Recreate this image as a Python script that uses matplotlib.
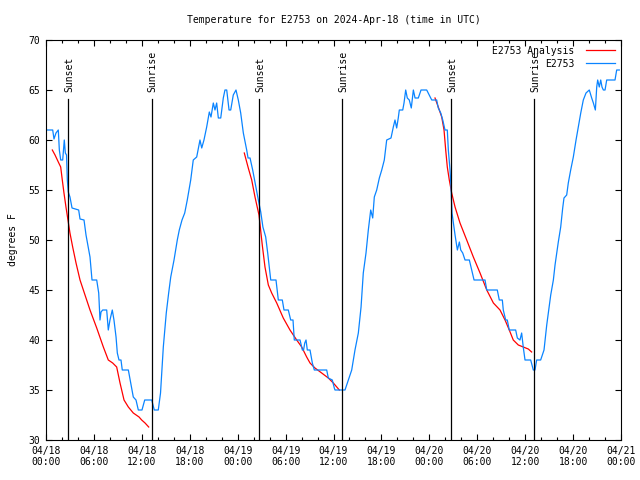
import matplotlib.pyplot as plt
from matplotlib.ticker import MultipleLocator

# hours since 2024-04-18 00:00 UTC
obs_hours = [0.0, 0.84, 1.0, 1.25, 1.54, 1.67, 1.84, 2.09, 2.29, 2.42, 2.57, 2.67, 2.79, 3.0,
             3.26, 4.09, 4.26, 4.76, 5.01, 5.3, 5.51, 5.76, 6.35, 6.6, 6.76, 6.89, 7.1, 7.6,
             7.8, 8.01, 8.3, 8.51, 8.77, 8.93, 9.14, 9.39, 9.55, 10.31, 10.61, 10.93, 11.27,
             11.56, 12.02, 12.36, 13.24, 13.56, 14.06, 14.34, 14.69, 15.06, 15.36, 15.62,
             16.03, 16.44, 16.69, 17.03, 17.37, 17.69, 18.12, 18.44, 18.87, 19.28, 19.5,
             19.78, 20.12, 20.45, 20.66, 20.95, 21.16, 21.37, 21.58, 21.88, 22.2, 22.41,
             22.63, 22.92, 23.13, 23.45, 23.79, 24.08, 24.38, 24.71, 25.13, 25.3, 25.55,
             25.88, 26.3, 26.59, 26.89, 27.16, 27.51, 27.76, 27.96, 28.14, 28.8, 29.09,
             29.59, 29.8, 30.34, 30.64, 30.93, 31.09, 31.81, 32.1, 32.25, 32.4, 32.56, 32.72,
             33.06, 33.35, 33.6, 35.15, 35.35, 35.85, 36.1, 36.19, 37.44, 37.86, 38.28,
             38.69, 39.11, 39.45, 39.73, 40.07, 40.36, 40.66, 40.91, 41.11, 41.41, 41.74,
             42.04, 42.36, 42.66, 43.2, 43.49, 43.7, 43.91, 44.11, 44.24, 44.67, 44.83,
             45.04, 45.24, 45.49, 45.74, 46.0, 46.21, 46.62, 46.96, 47.67, 48.3, 48.92,
             49.12, 49.43, 49.68, 49.96, 50.25, 50.38, 50.59, 50.72, 50.84, 51.01, 51.22,
             51.51, 51.76, 51.93, 52.18, 52.47, 53.01, 53.31, 53.6, 54.97, 55.19, 56.51,
             56.76, 57.14, 57.26, 57.56, 57.76, 58.01, 58.81, 59.02, 59.35, 59.56, 59.76,
             59.98, 60.69, 61.02, 61.23, 61.44, 61.94, 62.36, 62.7, 62.9, 63.2, 63.53,
             63.74, 64.15, 64.45, 64.7, 64.86, 65.2, 65.4, 65.7, 66.03, 66.37, 66.66,
             66.96, 67.28, 67.62, 68.03, 68.33, 68.54, 68.79, 68.96, 69.08, 69.28, 69.46,
             69.62, 69.79, 70.0, 70.21, 71.25, 71.46, 71.79]
obs_temp = [61, 61, 60.1, 60.7, 61, 59, 58, 58, 60, 58.7, 58.5, 56, 54.8, 54.3,
            53.2, 53, 52.1, 52, 50.5, 49.2, 48.3, 46, 46, 44.7, 42, 42.8, 43, 43,
            41, 42, 43, 42, 40.3, 38.7, 38, 38, 37, 37, 35.7, 34.3, 34,
            33, 33, 34, 34, 33, 33, 34.7, 39.3, 42.7, 44.7, 46.3,
            48, 50, 51, 52, 52.7, 54, 56, 58, 58.3, 60, 59.2,
            60, 61.3, 62.8, 62.3, 63.7, 63, 63.7, 62.2, 62.2, 64.2, 65,
            65, 63, 63, 64.5, 65, 64, 62.7, 60.7, 59, 58.2, 58.2,
            57, 55.2, 54, 52.8, 51.3, 50.3, 48.7, 47.3, 46, 46, 44,
            44, 43, 43, 42, 42, 40, 40, 39, 39, 39.7, 40, 39,
            39, 37.7, 37, 37, 36.2, 36, 35.2, 35, 35, 36, 37,
            39, 40.7, 43.3, 46.7, 48.7, 51, 53, 52.2, 54.3, 55, 56.2,
            57, 58, 60, 60.2, 61.3, 62, 61.2, 62.2, 63, 63, 63.7,
            65, 64.2, 64, 63.2, 65, 64.2, 64.2, 65, 65, 64, 64,
            63.2, 62.7, 62, 61, 61, 59, 57, 55.2, 52.7, 51.7, 50.5,
            49, 49.8, 49, 48.7, 48, 48, 47, 46, 46, 45, 45,
            44, 44, 43, 42, 42, 41, 41, 40.2, 40, 40.7, 39.3,
            38, 38, 37, 37, 38, 38, 39, 41.5, 42.7, 44.5, 46,
            47.5, 49.8, 51.3, 53.2, 54.2, 54.5, 55.7, 57, 58.3, 60, 61.3,
            62.7, 64, 64.7, 65, 64.2, 63.7, 63, 65.3, 66, 65.3, 66,
            65.3, 65, 65, 66, 66, 67, 67]

# analysis curves, one per night
ana1_hours = [0.79, 1.13, 1.54, 1.84, 2.04, 2.25, 2.5, 2.75, 3.0, 3.34, 3.76, 4.26, 4.8,
              5.51, 6.35, 7.18, 7.8, 8.35, 8.85, 9.27, 9.77, 10.31, 10.93, 11.65, 11.98,
              12.4, 12.86]
ana1_temp = [59, 58.5, 57.8, 57.3, 56, 54.7, 53.3, 52, 50.7, 49.3, 47.7, 46, 44.7,
             43, 41.2, 39.3, 38, 37.7, 37.3, 35.7, 34, 33.3, 32.7, 32.3, 32, 31.7, 31.3]
ana2_hours = [24.83, 25.33, 25.76, 26.17, 26.67, 27.08, 27.42, 27.84, 28.26, 28.89, 29.71,
              30.55, 31.39, 32.02, 32.64, 33.06, 33.68, 34.52, 35.35, 35.98, 36.73]
ana2_temp = [58.7, 57.2, 56, 54.3, 52.5, 49.5, 47.3, 45.5, 44.7, 43.7, 42.2,
             41, 40, 39.3, 38.3, 37.7, 37.2, 36.7, 36.2, 35.7, 35]
ana3_hours = [48.71, 49.12, 49.55, 49.84, 50.05, 50.25, 50.5, 50.8, 51.22, 51.84, 52.68,
              53.51, 54.35, 55.19, 56.02, 56.85, 57.48, 58.01, 58.51, 59.14, 59.76, 60.39,
              60.81]
ana3_temp = [64.2, 63.3, 62.3, 61, 59, 57.3, 56, 54.7, 53.3, 51.7, 50,
             48.3, 46.7, 45, 43.7, 43, 42, 41, 40, 39.5, 39.3, 39.1, 38.8]

sun_hours = [2.72, 13.22, 26.7, 37.12, 50.72, 61.15]
sun_labels = ['Sunset', 'Sunrise', 'Sunset', 'Sunrise', 'Sunset', 'Sunrise']

tick_hours = list(range(0, 73, 6))
tick_labels = ['04/18\n00:00', '04/18\n06:00', '04/18\n12:00', '04/18\n18:00',
               '04/19\n00:00', '04/19\n06:00', '04/19\n12:00', '04/19\n18:00',
               '04/20\n00:00', '04/20\n06:00', '04/20\n12:00', '04/20\n18:00',
               '04/21\n00:00']

plt.rcParams['font.family'] = 'DejaVu Sans Mono'
plt.rcParams['font.size'] = 7

fig = plt.figure(figsize=(6.4, 4.8), dpi=100)
ax = fig.add_axes([46 / 640, 40 / 480, 575 / 640, 400 / 480])

red = '#ff0000'
blue = '#0a84ff'
ax.plot(ana1_hours, ana1_temp, color=red, lw=0.9, label='E2753 Analysis')
ax.plot(ana2_hours, ana2_temp, color=red, lw=0.9)
ax.plot(ana3_hours, ana3_temp, color=red, lw=0.9)
ax.plot(obs_hours, obs_temp, color=blue, lw=0.9, label='E2753')

for h, lab in zip(sun_hours, sun_labels):
    ax.plot([h, h], [30, 64.1], color='black', lw=0.9)
    ax.text(h + 0.15, 64.8, lab, rotation=90, ha='center', va='bottom', fontsize=7)

ax.set_xlim(0, 72)
ax.set_ylim(30, 70)
ax.set_xticks(tick_hours)
ax.set_xticklabels(tick_labels)
ax.xaxis.set_minor_locator(MultipleLocator(2))
ax.set_yticks(range(30, 71, 5))
ax.tick_params(which='both', direction='in', top=True, right=True, width=0.8, labelsize=7)
ax.tick_params(which='major', length=4, pad=4)
ax.tick_params(which='minor', length=2.2)
for s in ax.spines.values():
    s.set_linewidth(0.8)

ax.set_title('Temperature for E2753 on 2024-Apr-18 (time in UTC)', fontsize=7, pad=12)
ax.set_ylabel('degrees F', fontsize=7, labelpad=8)
ax.legend(loc='upper right', frameon=False, markerfirst=False, handlelength=3,
          borderaxespad=0.2, labelspacing=0.3, handletextpad=1.2, fontsize=7)

plt.savefig('out.png')
